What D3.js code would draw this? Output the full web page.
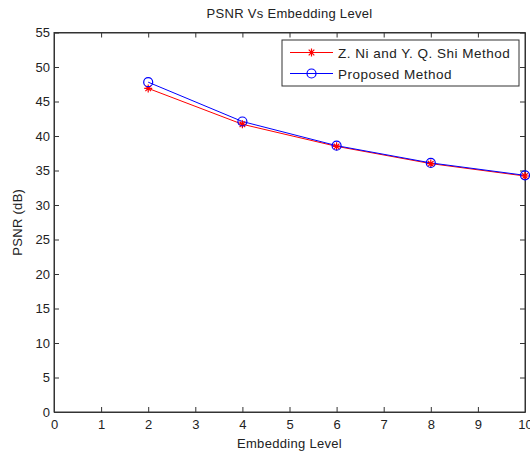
<!DOCTYPE html>
<html><head><meta charset="utf-8">
<script src="https://cdn.jsdelivr.net/npm/d3@7"></script>
<style>body{margin:0;background:#fff}svg{display:block}text{font-family:"Liberation Sans",Arial,sans-serif;fill:#222}</style>
</head><body><svg id="c" width="530" height="452"></svg>
<script>
const levels = [2, 4, 6, 8, 10];
const niShi = [46.9, 41.7, 38.5, 36.0, 34.2];
const proposed = [47.8, 42.1, 38.6, 36.1, 34.3];
const xTicks = [0,1,2,3,4,5,6,7,8,9,10];
const yTicks = [0,5,10,15,20,25,30,35,40,45,50,55];
const seriesNames = ["Z. Ni and Y. Q. Shi Method", "Proposed Method"];

const svg = d3.select("#c");
const L=54, R=525, T=32.5, B=412;
const x = d3.scaleLinear().domain([0,10]).range([L,R]);
const y = d3.scaleLinear().domain([0,55]).range([B,T]);

svg.append("rect").attr("x",L).attr("y",T).attr("width",R-L).attr("height",B-T)
  .attr("fill","none").attr("stroke","#333").attr("stroke-width",1);

const tl = 5;
const gx = svg.append("g").attr("transform",`translate(0,${B})`)
  .call(d3.axisBottom(x).tickValues(xTicks).tickSizeInner(-tl).tickSizeOuter(0).tickPadding(8));
const gxt = svg.append("g").attr("transform",`translate(0,${T})`)
  .call(d3.axisTop(x).tickValues(xTicks).tickSizeInner(-tl).tickSizeOuter(0).tickFormat(""));
const gy = svg.append("g").attr("transform",`translate(${L},0)`)
  .call(d3.axisLeft(y).tickValues(yTicks).tickSizeInner(-tl).tickSizeOuter(0).tickPadding(4));
const gyr = svg.append("g").attr("transform",`translate(${R},0)`)
  .call(d3.axisRight(y).tickValues(yTicks).tickSizeInner(-tl).tickSizeOuter(0).tickFormat(""));
[gx,gxt,gy,gyr].forEach(g=>{
  g.select(".domain").attr("stroke","#333");
  g.selectAll(".tick line").attr("stroke","#333");
  g.selectAll(".tick text").attr("font-size",13).attr("fill","#222").attr("font-family","Liberation Sans, Arial, sans-serif");
});

svg.append("text").attr("x",(L+R)/2).attr("y",18).attr("text-anchor","middle").attr("font-size",13).attr("letter-spacing",0.3).text("PSNR Vs Embedding Level");
svg.append("text").attr("x",(L+R)/2).attr("y",448).attr("text-anchor","middle").attr("font-size",13).attr("letter-spacing",0.3).text("Embedding Level");
svg.append("text").attr("transform",`translate(22,${(T+B)/2}) rotate(-90)`).attr("text-anchor","middle").attr("font-size",13).attr("letter-spacing",0.3).text("PSNR (dB)");

const line = d3.line().x((d,i)=>x(levels[i])).y(d=>y(d));
svg.append("path").datum(niShi).attr("d",line).attr("fill","none").attr("stroke","#ff0000").attr("stroke-width",1);
svg.append("path").datum(proposed).attr("d",line).attr("fill","none").attr("stroke","#0000ff").attr("stroke-width",1);

function star(g,cx,cy,col){
  const s=4;
  const p=`M${cx-s},${cy}L${cx+s},${cy}M${cx},${cy-s}L${cx},${cy+s}M${cx-s*0.7},${cy-s*0.7}L${cx+s*0.7},${cy+s*0.7}M${cx-s*0.7},${cy+s*0.7}L${cx+s*0.7},${cy-s*0.7}`;
  g.append("path").attr("d",p).attr("stroke",col).attr("stroke-width",1.2).attr("fill","none");
}
function circ(g,cx,cy,col){
  g.append("circle").attr("cx",cx).attr("cy",cy).attr("r",4.5).attr("fill","none").attr("stroke",col).attr("stroke-width",1.2);
}
const mg = svg.append("g");
niShi.forEach((v,i)=>star(mg,x(levels[i]),y(v),"#ff0000"));
proposed.forEach((v,i)=>circ(mg,x(levels[i]),y(v),"#0000ff"));

const lg = svg.append("g");
lg.append("rect").attr("x",282).attr("y",40).attr("width",237).attr("height",46).attr("fill","#fff").attr("stroke","#333").attr("stroke-width",1);
const rows=[{c:"#ff0000",m:star,yy:52.5},{c:"#0000ff",m:circ,yy:73.5}];
rows.forEach((r,i)=>{
  lg.append("line").attr("x1",290).attr("x2",333).attr("y1",r.yy).attr("y2",r.yy).attr("stroke",r.c).attr("stroke-width",1);
  r.m(lg,311.5,r.yy,r.c);
  lg.append("text").attr("x",338).attr("y",r.yy+5).attr("font-size",13.5).attr("letter-spacing",0.5).text(seriesNames[i]);
});
</script></body></html>
